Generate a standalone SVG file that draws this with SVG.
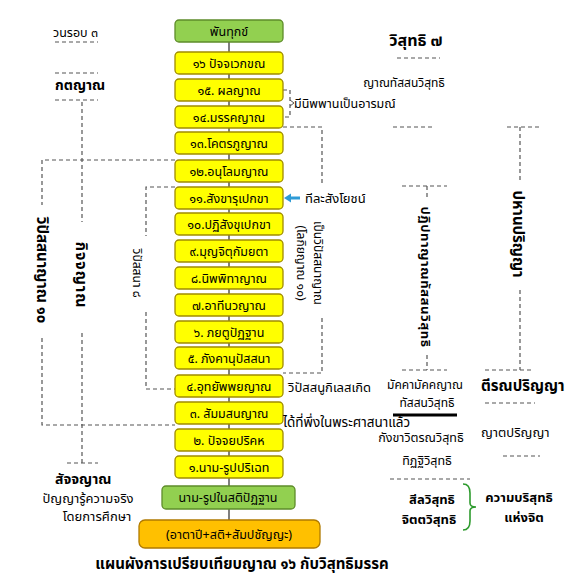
<svg xmlns="http://www.w3.org/2000/svg" width="567" height="578" viewBox="0 0 567 578">
<style>
text{font-family:Tahoma,"Noto Sans Thai","Noto Sans",sans-serif;fill:#000}
.t{font-size:12.5px}
.b{font-weight:bold}
.c{text-anchor:middle}
.y{fill:#FFFF00;stroke:#A08C00;stroke-width:1.3}
.g{fill:#92D050;stroke:#5E8C2A;stroke-width:1.3}
.o{fill:#FFC000;stroke:#B07A00;stroke-width:1.3}
.d{fill:none;stroke:#555;stroke-width:1.2;stroke-dasharray:4 3}
.s{fill:none;stroke:#555;stroke-width:1.5}
</style>
<rect width="567" height="578" fill="#fff"/>
<g id="connectors">
<line class="s" x1="229" y1="42" x2="229" y2="520"/>
<path class="d" d="M175 160 H42 V205 M42 338 V425 H175"/>
<path class="d" d="M55 42 H98 M55 73 H98 M55 100 H98 M82 102 V222 M82 333 V463 M67 463 H98"/>
<path class="d" d="M175 187 H146 V236 M146 312 V389 H175"/>
<path class="d" d="M283 90 H290 V117 H283"/>
<path d="M290 100 L294 103 L290 106" fill="none" stroke="#555" stroke-width="1"/>
<path class="d" d="M283 127 H322 V183 M322 318 V373 H283"/>
<path class="d" d="M393 127 H435 M507 127 H540 M397 58 H440"/>
<path class="d" d="M402 186 H447 M427 186 V200 M427 355 V370 M402 370 H447"/>
<path class="d" d="M520 127 V180 M520 290 V370 M485 370 H532 M485 403 H535 M503 456 H540 M390 479 H470"/>
<line x1="393" y1="415" x2="457" y2="415" stroke="#000" stroke-width="3"/>
<path d="M300 198 H290" stroke="#2E9BD6" stroke-width="3"/>
<path d="M284 198 L291 193.5 L291 202.5 Z" fill="#2E9BD6"/>
<path d="M463 484 Q470 484 470 493 V503 Q470 507 476 507 Q470 507 470 511 V521 Q470 530 463 530" fill="none" stroke="#2E9B2E" stroke-width="1.6"/>
</g>
<g id="n0"><rect class="g" x="175" y="20" width="108" height="22" rx="4"/><text class="t c" x="229" y="36">พันทุกข์</text></g>
<g id="n16"><rect class="y" x="175" y="52" width="108" height="22" rx="4"/><text class="t c" x="229" y="68">๑๖ ปัจจเวกขณ</text></g>
<g id="n15"><rect class="y" x="175" y="79" width="108" height="22" rx="4"/><text class="t c" x="229" y="95">๑๕. ผลญาณ</text></g>
<g id="n14"><rect class="y" x="175" y="106" width="108" height="22" rx="4"/><text class="t c" x="229" y="122">๑๔.มรรคญาณ</text></g>
<g id="n13"><rect class="y" x="175" y="132" width="108" height="22" rx="4"/><text class="t c" x="229" y="148">๑๓.โคตรภูญาณ</text></g>
<g id="n12"><rect class="y" x="175" y="160" width="108" height="22" rx="4"/><text class="t c" x="229" y="176">๑๒.อนุโลมญาณ</text></g>
<g id="n11"><rect class="y" x="175" y="187" width="108" height="22" rx="4"/><text class="t c" x="229" y="203">๑๑.สังขารุเปกขา</text></g>
<g id="n10"><rect class="y" x="175" y="213" width="108" height="22" rx="4"/><text class="t c" x="229" y="229">๑๐.ปฏิสังขุเปกขา</text></g>
<g id="n9"><rect class="y" x="175" y="240" width="108" height="22" rx="4"/><text class="t c" x="229" y="256">๙.มุญจิตุกัมยตา</text></g>
<g id="n8"><rect class="y" x="175" y="267" width="108" height="22" rx="4"/><text class="t c" x="229" y="283">๘.นิพพิทาญาณ</text></g>
<g id="n7"><rect class="y" x="175" y="294" width="108" height="22" rx="4"/><text class="t c" x="229" y="310">๗.อาทีนวญาณ</text></g>
<g id="n6"><rect class="y" x="175" y="321" width="108" height="22" rx="4"/><text class="t c" x="229" y="337">๖. ภยตูปัฏฐาน</text></g>
<g id="n5"><rect class="y" x="175" y="347" width="108" height="22" rx="4"/><text class="t c" x="229" y="363">๕. ภังคานุปัสสนา</text></g>
<g id="n4"><rect class="y" x="175" y="375" width="108" height="22" rx="4"/><text class="t c" x="229" y="391">๔.อุทยัพพยญาณ</text></g>
<g id="n3"><rect class="y" x="175" y="402" width="108" height="22" rx="4"/><text class="t c" x="229" y="418">๓. สัมมสนญาณ</text></g>
<g id="n2"><rect class="y" x="175" y="429" width="108" height="22" rx="4"/><text class="t c" x="229" y="445">๒. ปัจจยปริคห</text></g>
<g id="n1"><rect class="y" x="175" y="456" width="108" height="22" rx="4"/><text class="t c" x="229" y="472">๑.นาม-รูปปริเฉท</text></g>
<g id="nb"><rect class="g" x="162" y="486" width="133" height="23" rx="4"/><text class="t c" x="228" y="502">นาม-รูปในสติปัฏฐาน</text></g>
<g id="no"><rect class="o" x="139" y="520" width="181" height="28" rx="6"/><text class="t c" x="229" y="539">(อาตาปี+สติ+สัมปชัญญะ)</text></g>
<g id="labels">
<text class="t" x="53" y="37">วนรอบ ๓</text>
<text class="b" style="font-size:14px" x="55" y="90">กตญาณ</text>
<text class="b c" style="font-size:15px" transform="translate(42,270) rotate(90)" y="5">วิปัสสนาญาณ ๑๐</text>
<text class="b c" style="font-size:15px;letter-spacing:1px" transform="translate(81,275) rotate(90)" y="5">กิจจญาณ</text>
<text class="c" style="font-size:12px" transform="translate(137,273) rotate(90)" y="4">วิปัสสนา ๘</text>
<text class="b" style="font-size:14px" x="55" y="484">สัจจญาณ</text>
<text class="c" style="font-size:13px" x="88" y="503">ปัญญารู้ความจริง</text>
<text class="c" style="font-size:13px" x="97" y="521">โดยการศึกษา</text>
<text class="b c" style="font-size:16px" x="416" y="46">วิสุทธิ ๗</text>
<text class="c" style="font-size:12px" x="404" y="87">ญาณทัสสนวิสุทธิ</text>
<text style="font-size:12.5px" x="294" y="108">มีนิพพานเป็นอารมณ์</text>
<text style="font-size:13px" x="305" y="203">ทีละสังโยชน์</text>
<text class="c" style="font-size:12px" transform="translate(318,263) rotate(90)" y="4">เป็นวิปัสสนาญาณ</text>
<text class="c" style="font-size:12px" transform="translate(301,263) rotate(90)" y="4">(โลกิยญาณ ๑๐)</text>
<text class="c b" style="font-size:13px;letter-spacing:0.6px" transform="translate(425,277) rotate(90)" y="4">ปฏิปทาญาณทัสสนวิสุทธิ</text>
<text class="c b" style="font-size:15px" transform="translate(518,234) rotate(90)" y="5">ปหานปริญญา</text>
<text style="font-size:13px" x="288" y="392">วิปัสสนูกิเลสเกิด</text>
<text class="c" style="font-size:12px" x="425" y="389">มัคคามัคคญาณ</text>
<text class="c" style="font-size:12px" x="427" y="407">ทัสสนวิสุทธิ</text>
<text style="font-size:13.5px" x="283" y="427">ได้ที่พึ่งในพระศาสนาแล้ว</text>
<text class="b" style="font-size:15px" x="481" y="391">ตีรณปริญญา</text>
<text style="font-size:13px" x="481" y="437">ญาตปริญญา</text>
<text class="c" style="font-size:12.5px" x="421" y="442">กังขาวิตรณวิสุทธิ</text>
<text class="c" style="font-size:12.5px" x="427" y="465">ทิฏฐิวิสุทธิ</text>
<text class="b c" style="font-size:13px" x="432" y="504">สีลวิสุทธิ</text>
<text class="b c" style="font-size:13px" x="429" y="524">จิตตวิสุทธิ</text>
<text class="b c" style="font-size:13px" x="519" y="502">ความบริสุทธิ</text>
<text class="b c" style="font-size:13px" x="524" y="522">แห่งจิต</text>
<text class="b c" style="font-size:15px" x="242" y="569">แผนผังการเปรียบเทียบญาณ ๑๖ กับวิสุทธิมรรค</text>
</g>
</svg>
